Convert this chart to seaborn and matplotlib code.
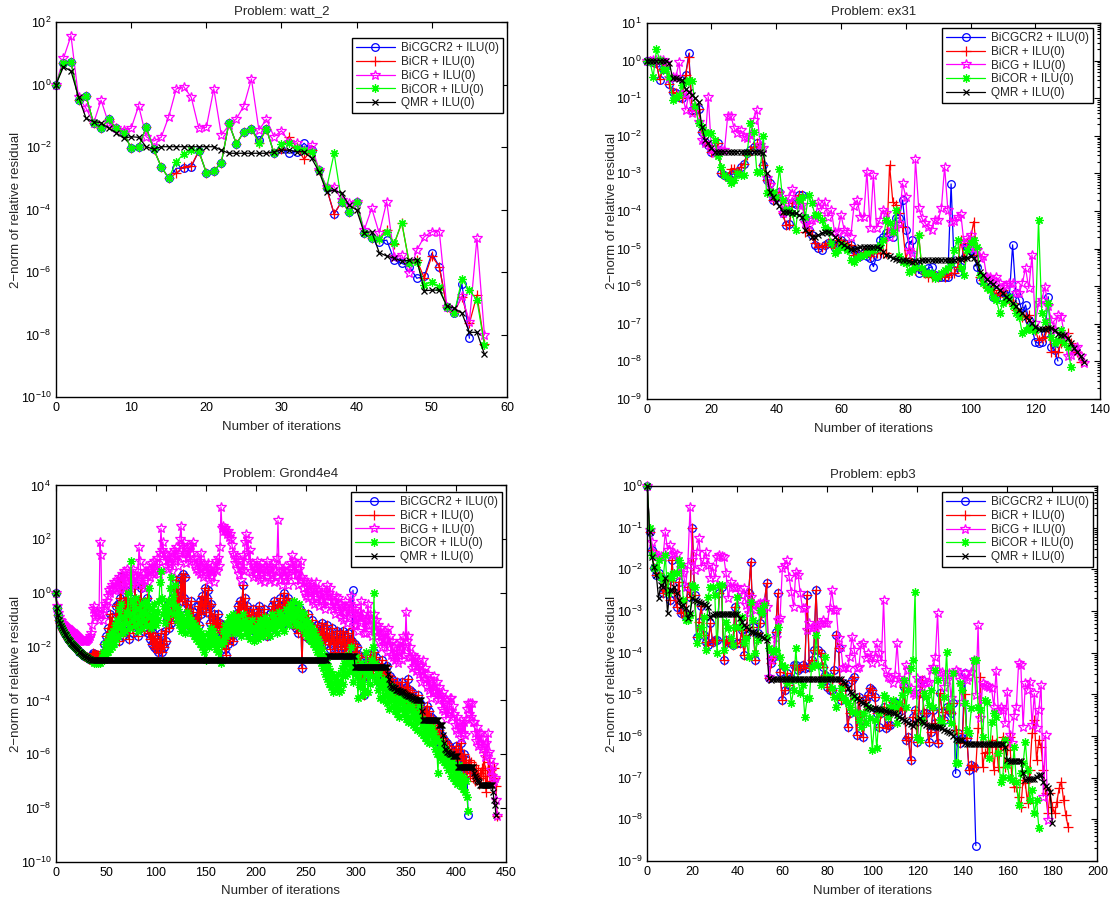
import numpy as np
import matplotlib
matplotlib.use('Agg')
import matplotlib.pyplot as plt
from matplotlib.ticker import (FixedLocator, LogFormatterSciNotation, NullLocator,
                               LogLocator, MultipleLocator)
import seaborn as sns

# All residual values are stored as log10 exponents, iteration i at position i.

# ---------------- Problem: watt_2 ----------------
watt2_bicgcr2 = [0, 0.68, 0.73, -0.50, -0.37, -1.24, -1.40, -1.11, -1.40, -1.54,
                 -2.04, -1.99, -1.37, -2.07, -2.63, -3.00, -2.68, -2.68, -2.63, -2.13,
                 -2.82, -2.77, -2.50, -1.24, -1.90, -1.51, -1.42, -1.78, -1.42, -2.20,
                 -2.05, -2.20, -2.15, -1.88, -2.10, -2.74, -3.32, -4.14, -3.75, -4.07,
                 -3.75, -4.76, -4.92, -5.03, -4.98, -5.62, -5.72, -5.83, -6.20, -6.13,
                 -5.40, -5.83, -7.13, -7.32, -6.38, -8.12]
watt2_bicr = [0, 0.68, 0.73, -0.50, -0.37, -1.24, -1.40, -1.11, -1.40, -1.54,
              -2.04, -1.99, -1.37, -2.07, -2.63, -3.00, -2.84, -2.63, -2.60, -2.13,
              -2.82, -2.77, -2.50, -1.24, -1.90, -1.51, -1.42, -1.86, -1.42, -2.20,
              -2.05, -1.67, -2.00, -2.39, -2.10, -2.74, -3.32, -4.14, -3.75, -4.07,
              -3.75, -4.76, -4.92, -4.95, -4.66, -5.10, -4.42, -5.72, -5.62, -6.20,
              -5.49, -5.83, -7.13, -7.27, -6.79, -7.64, -6.74, -8.30]
watt2_bicg = [0, 0.84, 1.56, -0.41, -0.76, -1.24, -0.50, -1.24, -1.40, -1.46,
              -1.40, -0.68, -1.67, -1.81, -1.69, -1.03, -0.14, -0.07, -0.41, -1.40,
              -1.37, -0.14, -1.62, -1.30, -1.10, -0.68, 0.18, -1.46, -1.11, -1.67,
              -1.48, -1.83, -1.88, -2.10, -1.94, -2.74, -3.27, -3.27, -3.70, -3.80,
              -3.75, -4.66, -3.96, -4.76, -3.75, -5.51, -5.46, -6.04, -5.30, -4.87,
              -4.71, -4.71, -7.13, -7.27, -6.77, -7.59, -4.92, -8.02]
watt2_bicor = [0, 0.68, 0.73, -0.50, -0.37, -1.24, -1.40, -1.11, -1.40, -1.54,
               -2.04, -1.99, -1.37, -2.07, -2.63, -3.00, -2.47, -2.22, -2.10, -2.13,
               -2.82, -2.77, -2.50, -1.24, -1.90, -1.51, -1.42, -1.86, -1.42, -2.20,
               -1.90, -1.88, -2.04, -2.10, -2.15, -2.74, -3.32, -2.20, -3.75, -4.07,
               -3.75, -4.76, -4.92, -4.95, -4.71, -5.08, -4.42, -5.72, -5.67, -6.42,
               -6.31, -6.49, -7.13, -7.32, -6.23, -6.58, -6.90, -8.34]
watt2_qmr = [0, 0.57, 0.43, -0.39, -1.08, -1.19, -1.22, -1.40, -1.54, -1.72,
             -1.67, -1.69, -1.99, -2.07, -1.99, -1.99, -1.99, -1.99, -1.99, -1.99,
             -1.99, -1.99, -2.10, -2.20, -2.20, -2.20, -2.20, -2.20, -2.20, -2.15,
             -2.10, -2.10, -2.15, -2.15, -2.36, -2.79, -3.43, -3.38, -3.48, -3.86,
             -4.02, -4.74, -4.71, -5.38, -5.49, -5.56, -5.65, -5.62, -5.60, -6.60,
             -6.58, -6.58, -7.09, -7.16, -7.32, -7.93, -7.93, -8.63]

# ---------------- Problem: ex31 ----------------
ex31_bicgcr2 = [0, 0, -0.03, -0.07, -0.52, -0.21, -0.12, -0.62, -0.83, -0.87,
                -0.98, -1.00, -0.38, 0.19, -1.31, -1.31, -1.30, -1.89, -2.16, -2.24,
                -2.42, -2.42, -2.20, -3.00, -3.04, -3.09, -3.04, -3.00, -2.95, -2.82,
                -2.75, -2.47, -2.38, -2.29, -2.20, -2.31, -2.78, -3.18, -3.26, -3.71,
                -3.66, -3.49, -4.06, -4.37, -4.35, -3.80, -3.81, -3.57, -3.57, -4.19,
                -4.50, -4.64, -4.90, -4.99, -5.04, -4.90, -4.86, -4.86, -4.99, -4.86,
                -4.77, -4.86, -4.99, -4.90, -5.04, -5.17, -5.21, -5.13, -5.21, -5.26,
                -5.48, -5.21, -4.77, -4.68, -4.58, -4.59, -4.68, -4.19, -4.19, -3.71,
                -4.50, -4.90, -4.77, -5.39, -5.66, -5.57, -5.61, -5.52, -5.48, -5.70,
                -5.75, -5.75, -5.75, -5.75, -3.28, -5.57, -5.61, -5.48, -4.86, -4.97,
                -5.04, -5.13, -5.48, -5.84, -5.79, -5.92, -6.01, -6.28, -6.32, -6.28,
                -6.15, -6.23, -6.28, -4.90, -6.19, -6.37, -6.72, -6.50, -6.90, -7.12,
                -7.48, -7.52, -7.48, -7.25, -6.28, -7.61, -7.70, -7.99]
ex31_bicr = [0, 0, -0.03, -0.07, -0.50, -0.21, -0.12, -0.62, -0.83, -0.87,
             -0.98, -1.00, -0.38, 0.10, -1.31, -1.31, -1.30, -1.89, -2.16, -2.24,
             -2.42, -2.42, -2.20, -3.00, -3.04, -3.09, -2.87, -2.87, -2.95, -2.82,
             -2.75, -2.51, -2.38, -2.29, -2.20, -2.31, -2.78, -3.18, -3.26, -3.71,
             -3.66, -3.49, -4.06, -4.37, -4.37, -3.80, -3.80, -3.57, -3.57, -4.55,
             -4.50, -4.64, -4.86, -4.95, -4.95, -4.90, -4.86, -4.86, -4.99, -4.77,
             -4.81, -4.86, -4.90, -4.90, -5.17, -5.17, -5.21, -5.08, -5.13, -5.21,
             -5.13, -5.13, -5.13, -5.13, -5.13, -2.78, -3.75, -3.84, -4.06, -4.42,
             -5.26, -5.04, -5.39, -5.57, -4.64, -5.57, -5.66, -5.75, -5.75, -5.70,
             -5.75, -5.73, -5.75, -5.70, -5.66, -5.66, -5.48, -4.77, -5.26, -4.86,
             -4.73, -4.28, -5.17, -5.75, -5.84, -6.01, -6.10, -6.10, -6.23, -6.19,
             -6.10, -6.28, -6.37, -6.46, -6.63, -6.72, -6.81, -6.81, -6.77, -7.03,
             -7.16, -7.43, -7.39, -7.34, -7.08, -7.74, -7.74, -7.74, -7.52, -7.34,
             -7.25, -7.52, -7.70, -7.74, -8.01]
ex31_bicg = [0, 0, 0.02, 0.02, 0.02, 0.02, -0.07, -0.47, -0.43, -0.43,
             -0.05, -0.87, -1.31, -0.91, -1.40, -1.22, -1.62, -2.11, -2.20, -0.96,
             -2.38, -2.47, -2.38, -2.38, -2.38, -1.47, -1.47, -1.80, -1.93, -1.85,
             -2.02, -2.07, -1.98, -1.58, -1.31, -2.24, -2.33, -3.13, -3.31, -3.66,
             -3.62, -3.53, -4.06, -3.80, -3.62, -3.42, -3.71, -3.84, -3.84, -4.33,
             -4.37, -4.24, -4.19, -3.75, -3.97, -3.75, -4.15, -3.97, -4.55, -4.55,
             -4.11, -4.50, -4.55, -4.68, -3.88, -3.71, -4.15, -4.15, -2.95, -4.46,
             -3.04, -4.46, -4.24, -3.97, -4.06, -4.68, -4.50, -4.42, -4.33, -3.26,
             -3.62, -5.04, -5.13, -2.63, -3.93, -4.19, -4.33, -4.42, -4.50, -4.24,
             -4.24, -3.93, -2.82, -3.97, -4.28, -4.26, -4.15, -4.08, -4.86, -4.73,
             -4.64, -4.99, -5.04, -5.26, -5.21, -5.75, -5.75, -5.84, -5.76, -5.92,
             -6.01, -5.97, -5.92, -5.92, -6.19, -6.19, -5.92, -5.52, -6.06, -5.17,
             -6.99, -6.46, -6.37, -6.01, -6.54, -6.90, -7.16, -6.77, -6.81, -7.30,
             -7.87, -7.83, -7.65, -7.61, -7.87, -8.05]
ex31_bicor = [0, -0.03, -0.43, 0.30, 0.02, -0.25, -0.21, -0.43, -1.05, -0.96,
              -0.91, -0.65, -0.56, -0.52, -0.53, -1.22, -1.67, -1.76, -1.89, -1.93,
              -1.92, -2.11, -2.55, -2.82, -3.04, -3.13, -3.26, -3.18, -3.00, -3.04,
              -3.04, -2.47, -1.67, -1.89, -2.95, -2.95, -2.00, -3.53, -3.49, -3.49,
              -3.62, -2.87, -3.71, -3.97, -3.97, -4.06, -4.50, -3.71, -3.62, -4.15,
              -3.57, -3.80, -4.11, -4.11, -4.24, -4.42, -4.50, -4.86, -5.13, -5.04,
              -4.90, -4.95, -5.04, -5.30, -5.35, -5.26, -5.21, -5.17, -5.13, -5.04,
              -5.04, -4.99, -4.90, -4.77, -4.24, -4.33, -4.55, -3.97, -5.21, -5.35,
              -5.39, -5.61, -5.57, -5.48, -4.64, -5.52, -5.66, -5.66, -5.66, -5.79,
              -5.75, -5.66, -5.57, -5.52, -5.39, -5.04, -4.77, -5.52, -5.70, -5.04,
              -4.86, -4.77, -4.95, -5.70, -5.92, -6.06, -6.10, -6.28, -6.37, -6.72,
              -6.46, -6.37, -6.28, -6.54, -6.72, -6.81, -7.25, -7.16, -7.08, -7.16,
              -7.16, -4.24, -6.72, -6.94, -6.46, -7.34, -7.52, -7.43, -7.16, -7.52,
              -7.61, -8.14]
ex31_qmr = ([0, 0, 0, 0, 0, 0, 0, -0.07, -0.47, -0.47,
             -0.50, -0.52, -0.76, -0.83, -0.91, -1.00, -1.09, -1.76, -2.11, -2.20,
             -2.33, -2.42] + [-2.42] * 14 +
            [-2.47, -3.00, -3.49, -3.62, -3.75, -3.88, -4.02, -4.02, -4.04, -4.06,
             -4.06, -4.11, -4.15, -4.50,
             -4.59, -4.68, -4.68, -4.64, -4.59, -4.55, -4.55, -4.58, -4.68, -4.77,
             -4.84, -4.90, -4.97, -5.02, -5.02, -4.99, -4.97, -4.95, -4.95, -4.95,
             -4.95, -4.97, -4.99, -5.08, -5.17, -5.21, -5.26, -5.28, -5.30, -5.30,
             -5.30, -5.32, -5.35, -5.33, -5.32, -5.30, -5.30, -5.30, -5.30, -5.30,
             -5.30, -5.30, -5.30, -5.30, -5.30, -5.30, -5.28, -5.28, -5.26, -5.24,
             -5.21, -5.26, -5.39, -5.61, -5.70, -5.82, -5.88, -5.94, -6.01, -6.10,
             -6.19, -6.28, -6.35, -6.46, -6.54, -6.63, -6.72, -6.81, -6.90, -6.99,
             -7.08, -7.15, -7.15, -7.15, -7.12, -7.12, -7.16, -7.27, -7.30, -7.30,
             -7.39, -7.52, -7.65, -7.74, -7.87, -8.01])

# ---------------- Problem: Grond4e4 ----------------
grond_start = [0, -0.57, -0.82, -1.0, -1.12, -1.22, -1.3, -1.38, -1.45, -1.52,
               -1.58, -1.64, -1.7, -1.76, -1.8, -1.85, -1.9, -1.94, -1.98, -2.02,
               -2.06, -2.1, -2.14, -2.18, -2.21, -2.24, -2.27, -2.3, -2.33, -2.36,
               -2.38, -2.4, -2.42, -2.44, -2.46, -2.48]
grond_bicr = grond_start + [
    -2.3, -2.25, -2.3, -2.28, -2.3, -2.32, -2.3, -2.35, -2.3, -2.33,
    -2.35, -2.3, -1.9, -2.2, -1.6, -2.1, -1.3, -1.9, -0.8, -1.5,
    -0.9, -1.7, -1.2, -1.6, -0.5, -1.3, -0.4, -1.8, -0.2, 0.6,
    -0.9, -1.6, -0.3, -1.4, 0.1, -1.1, -0.6, -1.7, -0.2, -1.2,
    -0.4, -1.5, -0.8, 0.3, -1.0, -0.5, -1.6, -0.3, -1.3, 0.2,
    -0.9, -0.4, -1.4, -0.7, -1.1, -0.2, -1.5, -0.9, -1.7, -1.3,
    -1.9, -1.5, -2.0, -1.6, -2.1, -1.7, -2.2, -1.8, -2.1, -1.5,
    -2.2, -1.9, -2.0, -1.4, -1.8, -1.0, -0.4, -1.3, -0.8, -1.1,
    -0.2, -0.9, 0.2, -0.6, 0.5, -0.7, 0.3, -1.0, -0.1, 0.6,
    -0.3, 0.7, -0.2, 0.6, -0.8, -0.4, -1.2, -0.6, -1.0, -0.3,
    -1.3, -0.7, -1.5, -1.0, -1.4, -0.9, -0.5, -1.2, -0.3, -0.8,
    -0.1, -0.6, -0.4, 0.2, -0.7, -0.2, 0.1, -0.5, -1.1, -0.4,
    -0.9, -1.3, -0.8, -1.5, -1.0, -1.4, -0.8, -1.3, -1.1, -1.7,
    -1.2, -1.9, -1.5, -2.1, -2.3, -1.6, -1.9, -1.3, -1.7, -1.0,
    -1.4, -1.8, -1.1, -1.5, -0.8, -1.2, -0.5, -1.0, -0.3, -0.9,
    -0.4, 0.3, -0.6, -0.2, -0.9, -0.5, -1.1, -0.7, -1.3, -0.8,
    -1.0, -0.6, -1.4, -0.9, -1.2, -0.7, -1.3, -0.5, -1.1, -0.8,
    -1.5, -1.0, -0.6, -1.2, -0.9, -1.6, -1.1, -1.4, -0.8, -1.2,
    -0.5, -1.0, -0.3, -0.8, -0.6, -1.1, -0.4, -0.9, -0.2, -0.7,
    -1.2, -0.5, 0.0, -0.6, -0.3, -0.9, -0.2, -0.7, -0.4, -1.0,
    -0.5, -1.2, -0.6, -0.9, -1.3, -0.8, -1.5, -1.0, -0.6, -1.2,
    -2.8, -1.3, -0.9, -1.6, -1.1, -1.4, -0.8, -1.7, -1.2, -1.5,
    -1.0, -1.8, -1.3, -1.9, -1.6, -1.2, -1.8, -1.4, -2.0, -1.5,
    -1.1, -1.7, -1.3, -1.9, -1.6, -1.2, -1.8, -1.5, -2.1, -1.7,
    -1.3, -1.9, -1.6, -2.2, -1.8, -1.4, -2.0, -1.7, -1.5, -2.1,
    -1.8, -1.4, -2.0, -1.6, -2.2, -1.9, -1.5, -2.1, -1.7, -2.3,
    -1.8, -1.3, -2.2, -1.9, -2.6, -2.0, -2.8, -2.3, -3.0, -2.4,
    -3.2, -2.7, -3.8, -2.9, -2.4, -3.1, -2.6, -2.9, -2.3, -2.8,
    -2.5, -3.0, -2.2, -2.7, -2.4, -3.1, -2.6, -3.3, -2.8, -3.0,
    -2.5, -3.2, -2.9, -3.4, -3.0, -2.7, -3.3, -3.6, -3.1, -3.7,
    -3.2, -3.8, -3.4, -3.9, -3.5, -3.3, -3.8, -3.5, -4.0, -3.6,
    -3.3, -3.9, -3.6, -4.1, -3.5, -3.8, -3.2, -3.9, -3.6, -4.2,
    -3.7, -4.3, -3.9, -4.4, -4.0, -4.2, -3.8, -4.4, -4.1, -4.6,
    -4.3, -4.8, -4.4, -4.9, -4.5, -4.2, -4.7, -4.4, -5.0, -4.6,
    -5.1, -4.7, -5.3, -4.9, -5.4, -5.0, -5.5, -5.1, -5.6, -5.3,
    -5.8, -5.4, -5.9, -5.5, -6.0, -5.6, -6.1, -5.7, -6.2, -5.8,
    -6.3, -5.9, -6.4, -6.0, -5.7, -6.2, -5.8, -6.4, -6.0, -5.6,
    -6.1, -6.5, -6.0, -6.6, -6.2, -6.7, -6.4, -6.2, -6.8, -6.3,
    -6.6, -6.9, -6.4, -7.0, -6.5, -6.9, -6.6, -7.1, -6.7, -6.9,
    -6.5, -6.8, -5.9, -6.6, -7.4, -6.8, -6.5, -6.3, -7.0, -6.6,
    -7.1, -6.8, -6.5, -6.9, -7.2, -8.3]
# BiCGCR2 sits on top of BiCR except for a spike at 297, and stops at 412
grond_bicgcr2 = grond_bicr[:412] + [-8.25]
grond_bicgcr2[297] = 0.1
grond_bicg = [
    0, -0.5, -0.75, -0.9, -1.0, -1.05, -1.1, -1.15, -1.2, -1.22,
    -1.25, -1.28, -1.3, -1.33, -1.36, -1.4, -1.43, -1.46, -1.5, -1.52,
    -1.55, -1.6, -1.63, -1.66, -1.7, -1.73, -1.76, -1.78, -1.79, -1.79,
    -1.78, -1.75, -1.72, -1.68, -1.6, -1.5, -1.2, -0.6, -0.5, -0.9,
    -0.7, -0.8, -0.76, -1.0, 1.9, 1.4, -0.8, -1.0, -0.6, -0.4,
    -0.5, -0.3, -0.1, 0.1, 0.0, 0.2, 0.3, 0.1, 0.4, 0.2,
    0.3, 0.5, 0.2, 0.6, 0.1, 0.4, 0.7, 0.3, 0.8, 0.2,
    0.5, 0.9, 0.4, 0.6, 0.2, 0.7, 0.5, 0.9, 0.3, 0.6,
    0.4, 0.8, 0.5, 1.7, 1.2, 0.6, 0.3, 0.7, 0.2, 0.5,
    1.0, 0.8, 0.4, 0.9, 0.6, 0.8, 1.1, 0.7, 1.2, 0.9,
    1.0, 1.3, 0.8, 0.7, 1.5, 2.4, 1.6, 1.9, 1.2, 1.5,
    1.0, 1.4, 0.9, 1.3, 1.1, 1.5, 0.8, 1.3, 1.6, 1.2,
    1.7, 1.4, 1.0, 1.5, 2.0, 2.5, 1.8, 1.3, 1.9, 1.5,
    1.1, 1.6, 1.3, 1.7, 1.2, 1.8, 1.5, 1.9, 1.3, 1.0,
    0.9, 1.3, 0.8, 1.2, 0.7, 1.5, 1.0, 0.6, 1.1, 0.8,
    1.0, 0.7, 1.1, 0.5, 0.9, 0.6, 1.0, 0.8, 0.4, 0.9,
    1.2, 0.8, 1.3, 1.0, 1.7, 3.2, 2.4, 2.5, 2.3, 2.4,
    2.3, 2.2, 2.3, 2.1, 2.2, 2.0, 1.8, 1.5, 1.4, 1.1,
    1.3, 0.9, 1.2, 0.7, 1.0, 0.5, 0.9, 1.4, 0.8, 1.9,
    2.2, 1.5, 2.0, 1.2, 1.6, 0.8, 1.1, 0.6, 1.0, 0.7,
    0.9, 1.2, 0.6, 1.0, 0.5, 1.1, 0.7, 0.9, 0.4, 1.0,
    0.8, 1.2, 0.6, 0.9, 0.5, 1.0, 0.7, 1.1, 0.4, 0.8,
    0.6, 1.3, 2.7, 1.0, 0.5, 0.8, 0.3, 0.9, 0.6, 1.0,
    0.5, 0.8, 0.3, 0.7, 0.9, 1.1, 1.4, 0.8, 1.2, 0.5,
    1.1, 0.7, 0.3, 0.9, 0.5, 1.2, 0.6, 0.2, 0.5, 0.0,
    -0.1, 0.4, -0.2, 0.3, 0.1, 0.4, -0.3, 0.1, -0.4, 0.2,
    0.4, -0.2, 0.1, -0.5, 0.0, -0.3, 0.2, -0.4, 0.0, -0.6,
    -0.1, 0.3, -0.3, 0.0, 0.2, -0.5, -0.1, -0.6, -0.3, -0.8,
    -0.1, -0.5, -0.2, -0.7, -0.4, -0.9, -0.5, -1.0, -0.7, -0.3,
    -0.5, -1.1, -0.6, -0.9, -0.4, -0.1, -0.8, -0.5, -1.2, -0.6,
    -1.2, -0.8, -1.4, -0.7, -1.1, -0.3, -0.9, -0.8, -1.5, -1.0,
    -1.5, -0.9, -0.4, -1.2, -0.8, -1.2, -1.6, -1.0, -0.8, -1.4,
    -1.0, -1.6, -1.2, -1.8, -1.3, -1.6, -2.0, -1.5, -1.9, -1.4,
    -1.8, -2.2, -1.3, -1.9, -1.6, -2.3, -1.8, -2.4, -2.0, -2.5,
    -2.4, -1.9, -2.6, -2.2, -1.8, -2.1, -2.5, -1.6, -2.3, -2.0,
    -0.7, -1.8, -1.6, -2.4, -2.0, -2.4, -2.8, -2.3, -2.7, -2.4,
    -2.9, -2.6, -2.5, -3.0, -2.7, -3.3, -2.9, -2.5, -3.2, -2.8,
    -3.2, -3.5, -3.0, -3.6, -3.2, -3.9, -3.3, -3.7, -3.1, -3.6,
    -3.7, -3.3, -4.0, -3.5, -3.9, -3.8, -4.3, -3.7, -4.4, -4.1,
    -4.7, -4.0, -4.5, -4.4, -3.9, -3.9, -4.6, -4.2, -4.5, -4.9,
    -5.1, -4.6, -5.2, -4.8, -5.0, -5.4, -4.9, -5.2, -4.8, -5.3,
    -4.7, -4.3, -4.1, -4.5, -4.1, -4.6, -4.1, -4.8, -4.8, -5.2,
    -5.5, -5.0, -5.7, -5.2, -5.6, -5.2, -5.8, -5.4, -5.7, -6.1,
    -5.6, -6.0, -5.2, -5.9, -6.2, -6.6, -6.8, -6.4, -7.0, -6.9,
    -7.7, -8.3]
grond_bicor = grond_start + [
    -2.5, -2.55, -2.6, -2.55, -2.6, -2.55, -2.6, -2.5, -2.6, -2.5,
    -2.4, -2.2, -2.5, -1.9, -2.3, -1.8, -2.2, -1.6, -2.1, -1.5,
    -2.0, -1.4, -1.9, -1.2, -1.7, -1.0, -1.6, -0.6, -1.3, -0.4,
    -1.2, -1.5, -0.9, -1.4, -0.7, -1.1, 0.0, -0.8, -1.3, 1.2,
    -0.3, -1.0, -0.5, -1.2, -0.2, -0.9, -1.4, -0.6, -1.1, -0.4,
    -1.3, -0.7, -1.0, -0.3, -0.8, -1.2, -0.5, 0.2, -0.9, -1.3,
    -0.6, -1.1, -0.4, -0.9, -1.2, -0.7, -1.0, -0.3, 0.4, 0.8,
    -0.2, -0.8, -0.5, -1.1, -0.6, -0.9, -0.3, -0.7, 0.2, 0.6,
    -0.4, -0.1, -0.8, 0.3, -0.5, -1.0, -0.6, -1.2, -0.8, -1.4,
    -0.9, -1.3, -1.0, -1.5, -1.1, -0.7, -1.2, -0.9, -1.4, -1.0,
    -1.5, -1.1, -1.6, -1.2, -1.7, -1.3, -1.8, -1.4, -1.9, -1.5,
    -2.0, -1.6, -2.2, -1.8, -2.5, -1.9, -1.5, -2.0, -1.6, -1.3,
    -1.8, -1.4, -1.9, -1.6, -2.1, -1.7, -2.2, -1.8, -2.5, -2.6,
    -1.9, -1.4, -1.8, -1.2, -1.6, -1.1, -1.5, -0.9, -1.4, -1.0,
    -1.3, -0.8, -1.2, -1.5, -1.0, -1.4, -0.9, -1.3, -1.1, -1.6,
    -1.2, -0.8, -1.3, -1.0, -1.5, -1.1, -1.6, -1.2, -1.7, -1.3,
    -1.0, -1.4, -1.8, -1.3, -1.6, -1.2, -1.7, -1.3, -1.0, -1.5,
    -1.1, -1.6, -1.2, -0.9, -1.4, -1.0, -1.5, -1.1, -1.6, -1.2,
    -0.8, -1.3, -0.9, -1.4, -1.0, -1.5, -1.1, -0.7, -1.2, -0.8,
    -1.3, -0.9, -1.4, -1.0, -0.6, -1.1, -0.7, -1.2, -0.4, -0.9,
    -0.5, -1.0, -0.3, -0.8, -1.2, -0.6, -1.1, -0.4, -0.9, -1.3,
    -0.7, -1.2, -0.8, -1.5, -1.0, -1.6, -1.1, -1.7, -1.2, -1.8,
    -1.3, -1.9, -1.4, -2.0, -1.6, -2.2, -1.7, -2.4, -1.9, -2.6,
    -2.1, -2.8, -2.3, -3.0, -2.5, -3.2, -2.7, -3.4, -2.9, -3.5,
    -3.0, -3.7, -3.1, -3.6, -3.2, -3.5, -3.0, -3.7, -3.3, -3.6,
    -2.8, -3.4, -2.6, -3.1, -2.4, -3.0, -2.3, -2.9, -2.5, -2.0,
    -2.7, -3.3, -2.6, -3.0, -2.4, -3.1, -3.9, -2.8, -3.5, -2.6,
    -3.3, -3.8, -2.9, -3.6, -2.2, -3.0, -3.7, -2.7, -3.4, -2.5,
    -3.1, -2.0, 0.0, -2.6, -3.3, -2.8, -3.6, -3.0, -3.9, -3.3,
    -3.5, -4.0, -3.2, -3.8, -3.4, -4.1, -3.6, -4.3, -3.8, -4.0,
    -3.5, -4.2, -3.7, -4.4, -3.9, -4.5, -4.0, -4.6, -4.1, -3.8,
    -4.3, -3.9, -4.5, -4.0, -4.7, -4.2, -4.8, -4.3, -4.0, -4.6,
    -4.2, -4.9, -4.4, -5.0, -4.5,
    -5.1, -4.6, -4.2, -4.8, -5.2, -4.7, -5.3, -4.8, -5.4, -4.9,
    -5.5, -5.0, -5.6, -5.1, -5.3, -5.0, -5.6, -5.2, -5.8, -5.4,
    -6.0, -6.7, -5.5, -6.1, -5.6, -6.2, -5.7, -6.3, -5.8, -6.4,
    -6.0, -6.6, -6.1, -6.5, -6.8, -6.3, -6.9, -6.4, -7.0, -6.6,
    -7.1, -6.7, -6.4, -6.9, -7.2, -6.8, -7.3, -6.9, -7.4, -7.0,
    -7.6, -8.1]
grond_qmr = (grond_start + [-2.5] * 236 + [-2.34] * 27 + [-2.75] * 33 +
             [-3.0, -3.2, -3.4] +
             [-3.45, -3.5, -3.5, -3.55, -3.55, -3.6, -3.6, -3.6, -3.65, -3.65,
              -3.7, -3.7, -3.7, -3.72, -3.75, -3.78] +
             [-3.8, -3.82, -3.85, -3.85, -3.88, -3.9, -3.92, -3.95, -3.95, -3.97,
              -4.0, -4.0, -4.0, -4.0] +
             [-4.0, -4.4] + [-4.73] * 16 + [-4.9] * 4 + [-5.3, -5.6] +
             [-5.8, -5.85, -5.9, -5.9, -5.95, -6.0, -6.0, -6.0] + [-6.05] * 5 +
             [-6.47] * 16 + [-6.7, -6.8, -6.9, -6.95, -7.0, -7.05] + [-7.15] * 13 +
             [-7.4, -7.7, -7.9, -8.27])

# ---------------- Problem: epb3 ----------------
epb3_bicr = [0, -1.10, -1.54, -1.98, -2.14, -2.10, -2.18, -2.58, -2.50, -2.26,
             -2.74, -1.78, -2.58, -2.90, -2.30, -3.06, -3.02, -3.14, -2.42, -2.66,
             -1.02, -2.62, -3.62, -3.26, -2.88, -3.58, -3.74, -3.82, -3.30, -3.74,
             -3.70, -3.70, -2.58, -2.42, -4.18, -3.70, -3.74, -3.78, -3.82, -2.90,
             -3.78, -3.78, -3.46, -4.06, -3.58, -2.58, -1.82, -3.38, -4.18, -3.54,
             -3.30, -3.06, -2.82, -2.34, -4.62, -4.26, -4.10, -3.50, -2.58, -4.46,
             -5.14, -4.90, -4.50, -4.78, -4.62, -4.30, -4.30, -4.42, -4.38, -4.30,
             -4.38, -2.62, -4.34, -4.18, -3.94, -2.50, -3.94, -4.02, -4.34, -4.54,
             -4.82, -4.90, -4.90, -4.42, -3.58, -3.90, -5.14, -4.74, -4.82, -5.78,
             -5.46, -4.66, -4.58, -5.98, -5.06, -5.62, -6.02, -5.14, -5.02, -4.86,
             -4.90, -5.06, -5.46, -5.78, -5.46, -5.30, -5.82, -5.74, -5.74, -5.18,
             -5.18, -5.38, -5.30, -5.38, -4.82, -6.10, -6.02, -6.58, -5.54, -5.38,
             -6.14, -4.98, -4.66, -5.46, -5.46, -6.14, -5.90, -5.38, -5.70, -6.18,
             -4.98, -5.42, -5.62, -5.30, -5.38, -5.46, -5.22, -5.86, -5.94, -6.18,
             -6.06, -5.00, -6.06, -6.82, -6.70, -6.74, -6.74, -5.82, -4.58, -6.74,
             -6.42, -6.38, -6.26, -6.10, -6.82, -6.18, -6.74, -6.26, -6.02, -6.74,
             -6.34, -6.02, -7.02, -7.22, -7.22, -7.46, -7.70, -7.06, -7.14, -7.62,
             -6.82, -5.94, -5.62, -6.58, -6.10, -6.26, -6.82, -7.38, -7.86, -7.38,
             -7.70, -7.86, -7.58, -7.26, -7.10, -7.54, -7.90, -8.18]
# BiCGCR2 follows BiCR except a few points, and stops at 146
epb3_bicgcr2 = epb3_bicr[:146] + [-8.63]
epb3_bicgcr2[137] = -6.90
epb3_bicgcr2[141] = -4.50
epb3_bicg = [0, -1.06, -1.34, -1.62, -1.68, -1.70, -1.68, -1.71, -1.10, -1.54,
             -1.42, -1.66, -1.62, -1.63, -2.14, -1.98, -2.10, -2.42, -1.90, -0.50,
             -1.78, -2.02, -1.58, -1.26, -1.94, -1.78, -1.58, -1.90, -2.22, -1.94,
             -2.22, -1.70, -1.66, -1.68, -1.70, -2.10, -2.70, -2.30, -2.42, -2.46,
             -2.42, -2.74, -2.62, -2.46, -2.86, -3.06, -2.66, -2.86, -2.98, -2.83,
             -2.82, -2.98, -2.78, -2.90, -4.58, -4.18, -4.02, -3.66, -3.22, -3.18,
             -1.98, -1.90, -1.78, -2.18, -2.54, -2.90, -2.06, -2.14, -2.58, -2.94,
             -2.94, -3.46, -3.30, -3.42, -3.38, -3.42, -3.34, -3.30, -3.22, -3.30,
             -3.30, -2.94, -2.50, -2.98, -2.98, -3.66, -3.86, -4.38, -4.34, -4.38,
             -4.10, -3.62, -3.94, -4.38, -4.34, -3.82, -3.78, -4.14, -4.02, -4.10,
             -4.26, -4.10, -3.78, -4.02, -4.22, -2.74, -4.42, -4.58, -4.62, -4.74,
             -4.54, -3.78, -4.62, -4.70, -4.66, -4.30, -4.42, -4.86, -4.98, -5.02,
             -4.62, -4.74, -4.82, -4.66, -4.74, -4.70, -4.42, -4.34, -4.10, -3.06,
             -4.50, -4.46, -4.82, -4.66, -4.50, -5.10, -4.50, -4.42, -4.46, -4.66,
             -5.18, -4.50, -4.66, -4.58, -4.46, -4.18, -5.02, -3.34, -5.58, -4.74,
             -4.78, -4.80, -4.82, -4.86, -5.30, -4.43, -5.38, -5.30, -5.38, -5.70,
             -4.94, -5.98, -6.18, -5.52, -5.30, -4.26, -4.30, -5.78, -4.74, -4.90,
             -4.70, -5.74, -4.98, -5.82, -5.38, -4.78, -7.46, -5.98, -8.02]
epb3_bicor = [0, -1.02, -1.66, -1.98, -1.94, -1.78, -2.18, -2.26, -1.66, -2.58,
              -2.14, -2.22, -2.10, -2.10, -1.78, -1.90, -2.74, -3.22, -3.22, -3.10,
              -2.38, -2.42, -3.78, -3.58, -3.38, -3.14, -3.94, -2.66, -2.42, -2.42,
              -2.62, -4.02, -2.38, -2.38, -3.94, -3.26, -3.42, -3.66, -3.82, -3.38,
              -2.66, -3.38, -3.14, -3.78, -3.66, -4.10, -2.78, -3.22, -4.02, -3.70,
              -2.98, -3.06, -2.86, -3.62, -3.90, -3.94, -3.98, -3.94, -3.38, -4.10,
              -4.30, -4.34, -4.74, -4.66, -5.22, -4.90, -3.90, -4.66, -4.98, -4.78,
              -5.54, -5.10, -5.10, -4.34, -4.30, -3.58, -4.30, -4.78, -4.66, -4.10,
              -4.58, -4.58, -4.86, -5.06, -5.30, -5.02, -4.86, -5.06, -5.14, -5.22,
              -5.30, -5.42, -5.06, -5.46, -5.62, -5.78, -5.46, -5.70, -5.30, -5.58,
              -6.34, -5.62, -6.30, -5.46, -5.38, -5.02, -5.10, -5.54, -5.30, -5.14,
              -5.30, -5.70, -5.22, -5.02, -4.66, -5.30, -4.90, -4.38, -4.18, -2.54,
              -6.02, -6.10, -5.62, -4.98, -5.06, -5.26, -4.90, -5.30, -4.42, -4.66,
              -5.62, -5.70, -5.06, -3.98, -5.30, -5.70, -4.50, -6.66, -6.66, -4.74,
              -4.90, -5.22, -5.86, -5.94, -5.34, -4.18, -4.18, -5.30, -5.38, -6.02,
              -5.14, -5.18, -6.54, -5.66, -5.46, -5.54, -6.42, -7.10, -6.98, -6.10,
              -6.70, -7.02, -7.06, -6.26, -7.10, -7.66, -6.90, -6.66, -6.14, -6.82,
              -7.54, -7.30, -7.86, -7.54, -8.22]
epb3_qmr = ([0, -1.10, -1.70, -1.94, -2.14, -2.70, -2.38, -2.42, -2.22, -3.06,
             -2.50, -2.50, -2.42, -2.58, -2.74, -2.88, -2.86, -2.94, -3.18, -3.06,
             -2.70, -2.74, -2.75, -2.78, -2.80, -2.83, -2.86, -2.90, -3.14, -3.10,
             -3.08, -3.08, -3.07, -3.07, -3.07, -3.07, -3.07, -3.08, -3.08, -3.08,
             -3.07, -3.18, -3.26, -3.34, -3.38, -3.44, -3.50, -3.50, -3.54, -3.55,
             -3.58, -3.62, -3.66, -3.70, -4.62, -4.66, -4.64, -4.64, -4.64, -4.64] +
            [-4.64] * 27 +
            [-4.70, -4.74, -4.86, -4.94, -4.98, -5.04, -5.10, -5.14, -5.18, -5.20,
             -5.23, -5.30, -5.34,
             -5.36, -5.34, -5.36, -5.36, -5.37, -5.38, -5.40, -5.42, -5.43, -5.44,
             -5.46, -5.50, -5.55, -5.58, -5.62, -5.65, -5.68, -5.72, -5.76, -5.70,
             -5.62, -5.58, -5.66, -5.70, -5.74, -5.75, -5.76, -5.77, -5.78, -5.79,
             -5.79, -5.82, -5.86, -5.88, -5.90, -5.94, -6.00, -6.08, -6.10, -6.10,
             -6.10, -6.18] + [-6.19] * 17 +
            [-6.26, -6.58] + [-6.59] * 6 +
            [-6.90, -7.06, -7.04, -7.04, -7.04, -7.04, -6.98, -6.94, -6.94, -7.10,
             -7.20, -7.26, -7.34, -8.10])

method_labels = ['BiCGCR2 + ILU(0)', 'BiCR + ILU(0)', 'BiCG + ILU(0)',
                 'BiCOR + ILU(0)', 'QMR + ILU(0)']

sns.set_style('white')
plt.rcParams['font.family'] = ['Liberation Sans', 'DejaVu Sans']
plt.rcParams['mathtext.fontset'] = 'custom'
plt.rcParams['mathtext.rm'] = 'Liberation Sans'
plt.rcParams['mathtext.it'] = 'Liberation Sans:italic'
plt.rcParams['mathtext.bf'] = 'Liberation Sans:bold'
plt.rcParams['axes.unicode_minus'] = True

styles = [
    dict(color='#0000ff', marker='o', markersize=5.5, markerfacecolor='none'),
    dict(color='#ff0000', marker='+', markersize=6.5),
    dict(color='#ff00ff', marker='*', markersize=7.5, markerfacecolor='none'),
    dict(color='#00ff00', marker=(8, 2, 0), markersize=6),
    dict(color='#000000', marker='x', markersize=4.5),
]

panels = [
    dict(rect=[0.0501, 0.5584, 0.4038, 0.4171], title='Problem: watt_2',
         data=[watt2_bicgcr2, watt2_bicr, watt2_bicg, watt2_bicor, watt2_qmr],
         xlim=60, xstep=10, ydec=(-10, 2), ystep=2, minor=False, leg=(0.991, 0.957)),
    dict(rect=[0.579, 0.5562, 0.4058, 0.4182], title='Problem: ex31',
         data=[ex31_bicgcr2, ex31_bicr, ex31_bicg, ex31_bicor, ex31_qmr],
         xlim=140, xstep=20, ydec=(-9, 1), ystep=1, minor=True, leg=(0.985, 0.987)),
    dict(rect=[0.0501, 0.0415, 0.4029, 0.4185], title='Problem: Grond4e4',
         data=[grond_bicgcr2, grond_bicr, grond_bicg, grond_bicor, grond_qmr],
         xlim=450, xstep=50, ydec=(-10, 4), ystep=2, minor=False, leg=(0.991, 0.983)),
    dict(rect=[0.5795, 0.0423, 0.4029, 0.4171], title='Problem: epb3',
         data=[epb3_bicgcr2, epb3_bicr, epb3_bicg, epb3_bicor, epb3_qmr],
         xlim=200, xstep=20, ydec=(-9, 0), ystep=1, minor=True, leg=(0.99, 0.984)),
]

fig = plt.figure(figsize=(11.17, 8.99), dpi=100)

for p in panels:
    ax = fig.add_axes(p['rect'])
    ax.set_yscale('log')
    for vals, lab, st in zip(p['data'], method_labels, styles):
        y = 10.0 ** np.asarray(vals, dtype=float)
        x = np.arange(len(y))
        sns.lineplot(x=x, y=y, ax=ax, label=lab, estimator=None,
                     linewidth=0.9, markeredgecolor=st['color'],
                     markeredgewidth=0.9, clip_on=False, **st)
    lo, hi = p['ydec']
    ax.set_xlim(0, p['xlim'])
    ax.set_ylim(10.0 ** lo, 10.0 ** hi)
    ax.xaxis.set_major_locator(MultipleLocator(p['xstep']))
    ax.yaxis.set_major_locator(FixedLocator(10.0 ** np.arange(lo, hi + 1, p['ystep'])))
    ax.yaxis.set_major_formatter(LogFormatterSciNotation())
    if p['minor']:
        ax.yaxis.set_minor_locator(LogLocator(base=10, subs=np.arange(2, 10), numticks=60))
    else:
        ax.yaxis.set_minor_locator(NullLocator())
    ax.xaxis.set_minor_locator(NullLocator())
    ax.tick_params(which='both', direction='in', top=True, right=True,
                   labelsize=9, width=0.8, colors='black')
    ax.tick_params(which='major', length=4)
    ax.tick_params(which='minor', length=2)
    for s in ax.spines.values():
        s.set_linewidth(1.0)
        s.set_color('black')
    ax.set_title(p['title'], fontsize=9.5, pad=6)
    ax.set_xlabel('Number of iterations', fontsize=9.5, labelpad=5)
    ax.set_ylabel('2\u2212norm of relative residual', fontsize=9.5, labelpad=-1)
    leg = ax.legend(loc='upper right', bbox_to_anchor=p['leg'], borderaxespad=0,
                    fancybox=False, edgecolor='black', framealpha=1, fontsize=8.5,
                    handlelength=3.3, numpoints=1, labelspacing=0.15,
                    borderpad=0.35, handletextpad=0.5)
    leg.get_frame().set_linewidth(1.0)

fig.savefig('out.png', dpi=100)
